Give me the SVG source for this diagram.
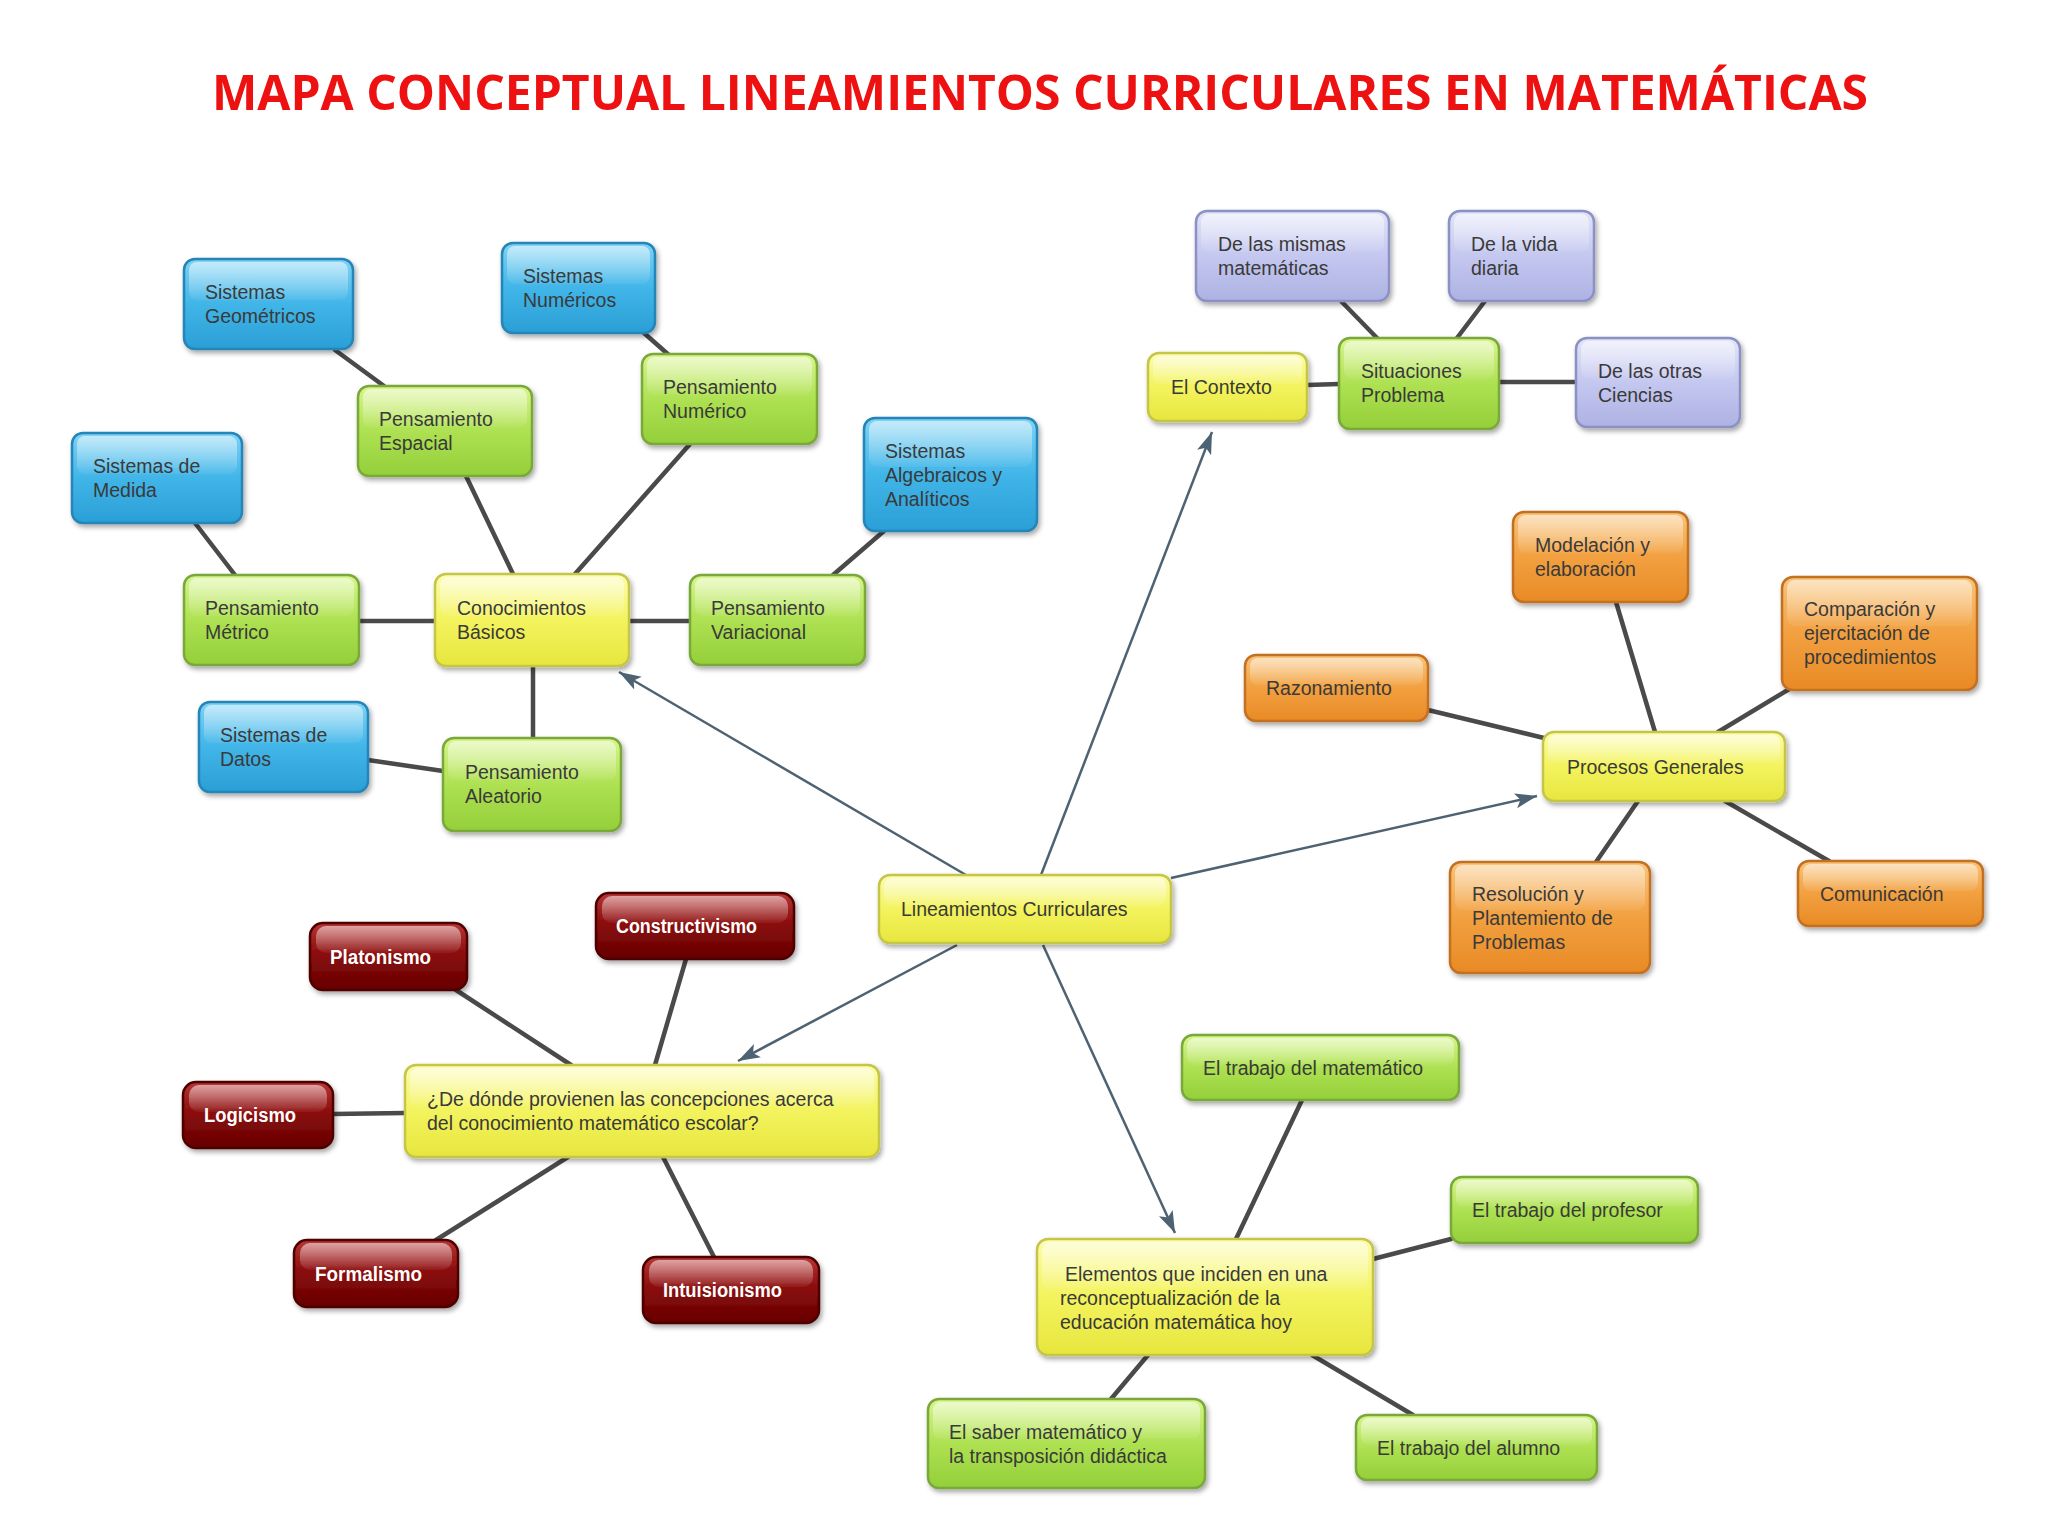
<svg xmlns="http://www.w3.org/2000/svg" width="2048" height="1536" viewBox="0 0 2048 1536">
<defs>
<linearGradient id="gBlue" x1="0" y1="0" x2="0" y2="1"><stop offset="0" stop-color="#7fd3f5"/><stop offset="0.5" stop-color="#41b5e8"/><stop offset="1" stop-color="#2a9fd6"/></linearGradient>
<linearGradient id="gGreen" x1="0" y1="0" x2="0" y2="1"><stop offset="0" stop-color="#d8f58e"/><stop offset="0.5" stop-color="#aee152"/><stop offset="1" stop-color="#94cf3a"/></linearGradient>
<linearGradient id="gYellow" x1="0" y1="0" x2="0" y2="1"><stop offset="0" stop-color="#fcfcb0"/><stop offset="0.5" stop-color="#f3f35e"/><stop offset="1" stop-color="#e7e63e"/></linearGradient>
<linearGradient id="gLav" x1="0" y1="0" x2="0" y2="1"><stop offset="0" stop-color="#e2e4f9"/><stop offset="0.5" stop-color="#c4c7ef"/><stop offset="1" stop-color="#aeb2e3"/></linearGradient>
<linearGradient id="gOrange" x1="0" y1="0" x2="0" y2="1"><stop offset="0" stop-color="#f9c47a"/><stop offset="0.5" stop-color="#f2a040"/><stop offset="1" stop-color="#e88a25"/></linearGradient>
<linearGradient id="gRed" x1="0" y1="0" x2="0" y2="1"><stop offset="0" stop-color="#b83535"/><stop offset="0.45" stop-color="#8c0d0d"/><stop offset="1" stop-color="#660000"/></linearGradient>
<linearGradient id="hl" x1="0" y1="0" x2="0" y2="1"><stop offset="0" stop-color="#ffffff" stop-opacity="0.55"/><stop offset="1" stop-color="#ffffff" stop-opacity="0.05"/></linearGradient>
<filter id="sh" x="-10%" y="-10%" width="130%" height="140%"><feDropShadow dx="2" dy="3" stdDeviation="2.5" flood-color="#000" flood-opacity="0.35"/></filter>
<marker id="arr" markerUnits="userSpaceOnUse" markerWidth="24" markerHeight="18" refX="22" refY="9" orient="auto"><path d="M0,1.5 L22,9 L0,16.5 L5,9 Z" fill="#4d6272"/></marker>
<style>
.b{stroke-width:2.5;filter:url(#sh)}
.blue{fill:url(#gBlue);stroke:#2585b8}
.green{fill:url(#gGreen);stroke:#7aa83a}
.yellow{fill:url(#gYellow);stroke:#c5c548}
.lav{fill:url(#gLav);stroke:#8c91c4}
.orange{fill:url(#gOrange);stroke:#c26f22}
.red{fill:url(#gRed);stroke:#4d0000}
.h{fill:url(#hl)}
.t{font-family:"Liberation Sans",Arial,sans-serif;font-size:19.5px;fill:#3a3a3a}
.tw{font-family:"Liberation Sans",Arial,sans-serif;font-size:20px;font-weight:bold;fill:#ffffff}
.c line{stroke:#4a4a4a;stroke-width:4.5;stroke-linecap:round}
.a line{stroke:#4d6272;stroke-width:2.5;marker-end:url(#arr)}
</style>
</defs>
<rect width="2048" height="1536" fill="#ffffff"/>
<text x="1040" y="110" text-anchor="middle" font-family="'Open Sans','DejaVu Sans',sans-serif" font-size="48" font-weight="bold" fill="#ee1111" textLength="1656" lengthAdjust="spacingAndGlyphs">MAPA CONCEPTUAL LINEAMIENTOS CURRICULARES EN MATEMÁTICAS</text>

<g id="connectors">
<g class="c">
<line x1="335" y1="350" x2="384" y2="386"/>
<line x1="644" y1="333" x2="670" y2="356"/>
<line x1="466" y1="476" x2="513" y2="574"/>
<line x1="690" y1="444" x2="575" y2="574"/>
<line x1="195" y1="523" x2="235" y2="575"/>
<line x1="884" y1="531" x2="833" y2="575"/>
<line x1="359" y1="621" x2="435" y2="621"/>
<line x1="629" y1="621" x2="690" y2="621"/>
<line x1="533" y1="666" x2="533" y2="738"/>
<line x1="368" y1="760" x2="443" y2="771"/>
<line x1="1341" y1="301" x2="1377" y2="338"/>
<line x1="1485" y1="301" x2="1457" y2="338"/>
<line x1="1307" y1="385" x2="1339" y2="384"/>
<line x1="1499" y1="382" x2="1576" y2="382"/>
<line x1="1616" y1="602" x2="1655" y2="732"/>
<line x1="1791" y1="688" x2="1718" y2="732"/>
<line x1="1428" y1="710" x2="1544" y2="738"/>
<line x1="1638" y1="801" x2="1596" y2="862"/>
<line x1="1725" y1="801" x2="1829" y2="861"/>
<line x1="456" y1="990" x2="571" y2="1065"/>
<line x1="686" y1="959" x2="655" y2="1065"/>
<line x1="333" y1="1114" x2="405" y2="1113"/>
<line x1="568" y1="1157" x2="436" y2="1240"/>
<line x1="663" y1="1157" x2="714" y2="1257"/>
<line x1="1302" y1="1100" x2="1236" y2="1239"/>
<line x1="1451" y1="1239" x2="1373" y2="1259"/>
<line x1="1148" y1="1355" x2="1111" y2="1399"/>
<line x1="1312" y1="1355" x2="1413" y2="1415"/>
</g>
<g class="a">
<line x1="966" y1="875" x2="619" y2="672"/>
<line x1="1041" y1="875" x2="1212" y2="432"/>
<line x1="1171" y1="878" x2="1537" y2="796"/>
<line x1="957" y1="945" x2="738" y2="1061"/>
<line x1="1043" y1="945" x2="1175" y2="1233"/>
</g>
</g>

<g id="sistemas-geometricos"><rect class="b blue" x="184" y="259" width="169" height="90" rx="11"/><rect class="h" x="189" y="262" width="159" height="38" rx="8"/><text class="t" x="205" y="299">Sistemas</text><text class="t" x="205" y="323">Geométricos</text></g>
<g id="sistemas-numericos"><rect class="b blue" x="502" y="243" width="153" height="90" rx="11"/><rect class="h" x="507" y="246" width="143" height="38" rx="8"/><text class="t" x="523" y="283">Sistemas</text><text class="t" x="523" y="307">Numéricos</text></g>
<g id="sistemas-medida"><rect class="b blue" x="72" y="433" width="170" height="90" rx="11"/><rect class="h" x="77" y="436" width="160" height="38" rx="8"/><text class="t" x="93" y="473">Sistemas de</text><text class="t" x="93" y="497">Medida</text></g>
<g id="sistemas-algebraicos"><rect class="b blue" x="864" y="418" width="173" height="113" rx="11"/><rect class="h" x="869" y="421" width="163" height="46" rx="8"/><text class="t" x="885" y="458">Sistemas</text><text class="t" x="885" y="482">Algebraicos y</text><text class="t" x="885" y="506">Analíticos</text></g>
<g id="sistemas-datos"><rect class="b blue" x="199" y="702" width="169" height="90" rx="11"/><rect class="h" x="204" y="705" width="159" height="38" rx="8"/><text class="t" x="220" y="742">Sistemas de</text><text class="t" x="220" y="766">Datos</text></g>

<g id="pensamiento-espacial"><rect class="b green" x="358" y="386" width="174" height="90" rx="11"/><rect class="h" x="363" y="389" width="164" height="38" rx="8"/><text class="t" x="379" y="426">Pensamiento</text><text class="t" x="379" y="450">Espacial</text></g>
<g id="pensamiento-numerico"><rect class="b green" x="642" y="354" width="175" height="90" rx="11"/><rect class="h" x="647" y="357" width="165" height="38" rx="8"/><text class="t" x="663" y="394">Pensamiento</text><text class="t" x="663" y="418">Numérico</text></g>
<g id="pensamiento-metrico"><rect class="b green" x="184" y="575" width="175" height="90" rx="11"/><rect class="h" x="189" y="578" width="165" height="38" rx="8"/><text class="t" x="205" y="615">Pensamiento</text><text class="t" x="205" y="639">Métrico</text></g>
<g id="pensamiento-variacional"><rect class="b green" x="690" y="575" width="175" height="90" rx="11"/><rect class="h" x="695" y="578" width="165" height="38" rx="8"/><text class="t" x="711" y="615">Pensamiento</text><text class="t" x="711" y="639">Variacional</text></g>
<g id="pensamiento-aleatorio"><rect class="b green" x="443" y="738" width="178" height="93" rx="11"/><rect class="h" x="448" y="741" width="168" height="39" rx="8"/><text class="t" x="465" y="779">Pensamiento</text><text class="t" x="465" y="803">Aleatorio</text></g>
<g id="conocimientos-basicos"><rect class="b yellow" x="435" y="574" width="194" height="92" rx="11"/><rect class="h" x="440" y="577" width="184" height="39" rx="8"/><text class="t" x="457" y="615">Conocimientos</text><text class="t" x="457" y="639">Básicos</text></g>

<g id="de-las-mismas"><rect class="b lav" x="1196" y="211" width="193" height="90" rx="11"/><rect class="h" x="1201" y="214" width="183" height="38" rx="8"/><text class="t" x="1218" y="251">De las mismas</text><text class="t" x="1218" y="275">matemáticas</text></g>
<g id="de-la-vida"><rect class="b lav" x="1449" y="211" width="145" height="90" rx="11"/><rect class="h" x="1454" y="214" width="135" height="38" rx="8"/><text class="t" x="1471" y="251">De la vida</text><text class="t" x="1471" y="275">diaria</text></g>
<g id="el-contexto"><rect class="b yellow" x="1148" y="353" width="159" height="68" rx="11"/><rect class="h" x="1153" y="356" width="149" height="28" rx="8"/><text class="t" x="1171" y="394">El Contexto</text></g>
<g id="situaciones-problema"><rect class="b green" x="1339" y="338" width="160" height="91" rx="11"/><rect class="h" x="1344" y="341" width="150" height="38" rx="8"/><text class="t" x="1361" y="378">Situaciones</text><text class="t" x="1361" y="402">Problema</text></g>
<g id="de-las-otras"><rect class="b lav" x="1576" y="338" width="164" height="89" rx="11"/><rect class="h" x="1581" y="341" width="154" height="38" rx="8"/><text class="t" x="1598" y="378">De las otras</text><text class="t" x="1598" y="402">Ciencias</text></g>

<g id="modelacion"><rect class="b orange" x="1513" y="512" width="175" height="90" rx="11"/><rect class="h" x="1518" y="515" width="165" height="38" rx="8"/><text class="t" x="1535" y="552">Modelación y</text><text class="t" x="1535" y="576">elaboración</text></g>
<g id="comparacion"><rect class="b orange" x="1782" y="577" width="195" height="113" rx="11"/><rect class="h" x="1787" y="580" width="185" height="46" rx="8"/><text class="t" x="1804" y="616">Comparación y</text><text class="t" x="1804" y="640">ejercitación de</text><text class="t" x="1804" y="664">procedimientos</text></g>
<g id="razonamiento"><rect class="b orange" x="1245" y="655" width="183" height="66" rx="11"/><rect class="h" x="1250" y="658" width="173" height="27" rx="8"/><text class="t" x="1266" y="695">Razonamiento</text></g>
<g id="procesos-generales"><rect class="b yellow" x="1543" y="732" width="242" height="69" rx="11"/><rect class="h" x="1548" y="735" width="232" height="28" rx="8"/><text class="t" x="1567" y="774">Procesos Generales</text></g>
<g id="resolucion"><rect class="b orange" x="1450" y="862" width="200" height="111" rx="11"/><rect class="h" x="1455" y="865" width="190" height="45" rx="8"/><text class="t" x="1472" y="901">Resolución y</text><text class="t" x="1472" y="925">Plantemiento de</text><text class="t" x="1472" y="949">Problemas</text></g>
<g id="comunicacion"><rect class="b orange" x="1798" y="861" width="185" height="65" rx="11"/><rect class="h" x="1803" y="864" width="175" height="27" rx="8"/><text class="t" x="1820" y="901">Comunicación</text></g>

<g id="lineamientos-curriculares"><rect class="b yellow" x="879" y="875" width="292" height="68" rx="11"/><rect class="h" x="884" y="878" width="282" height="28" rx="8"/><text class="t" x="901" y="916">Lineamientos Curriculares</text></g>

<g id="constructivismo"><rect class="b red" x="596" y="893" width="198" height="66" rx="13"/><rect class="h" x="602" y="896" width="186" height="27" rx="10"/><text class="tw" x="616" y="933" textLength="141" lengthAdjust="spacingAndGlyphs">Constructivismo</text></g>
<g id="platonismo"><rect class="b red" x="310" y="923" width="157" height="67" rx="13"/><rect class="h" x="316" y="926" width="145" height="27" rx="10"/><text class="tw" x="330" y="964" textLength="101" lengthAdjust="spacingAndGlyphs">Platonismo</text></g>
<g id="logicismo"><rect class="b red" x="183" y="1082" width="150" height="66" rx="13"/><rect class="h" x="189" y="1085" width="138" height="27" rx="10"/><text class="tw" x="204" y="1122" textLength="92" lengthAdjust="spacingAndGlyphs">Logicismo</text></g>
<g id="de-donde"><rect class="b yellow" x="405" y="1065" width="474" height="92" rx="11"/><rect class="h" x="410" y="1068" width="464" height="38" rx="8"/><text class="t" x="427" y="1106">¿De dónde provienen las concepciones acerca</text><text class="t" x="427" y="1130">del conocimiento matemático escolar?</text></g>
<g id="formalismo"><rect class="b red" x="294" y="1240" width="164" height="67" rx="13"/><rect class="h" x="300" y="1243" width="152" height="27" rx="10"/><text class="tw" x="315" y="1281" textLength="107" lengthAdjust="spacingAndGlyphs">Formalismo</text></g>
<g id="intuisionismo"><rect class="b red" x="643" y="1257" width="176" height="66" rx="13"/><rect class="h" x="649" y="1260" width="164" height="27" rx="10"/><text class="tw" x="663" y="1297" textLength="119" lengthAdjust="spacingAndGlyphs">Intuisionismo</text></g>

<g id="trabajo-matematico"><rect class="b green" x="1182" y="1035" width="277" height="65" rx="11"/><rect class="h" x="1187" y="1038" width="267" height="27" rx="8"/><text class="t" x="1203" y="1075">El trabajo del matemático</text></g>
<g id="trabajo-profesor"><rect class="b green" x="1451" y="1177" width="247" height="66" rx="11"/><rect class="h" x="1456" y="1180" width="237" height="27" rx="8"/><text class="t" x="1472" y="1217">El trabajo del profesor</text></g>
<g id="elementos"><rect class="b yellow" x="1037" y="1239" width="336" height="116" rx="11"/><rect class="h" x="1042" y="1242" width="326" height="47" rx="8"/><text class="t" x="1065" y="1281">Elementos que inciden en una</text><text class="t" x="1060" y="1305">reconceptualización de la</text><text class="t" x="1060" y="1329">educación matemática hoy</text></g>
<g id="saber-matematico"><rect class="b green" x="928" y="1399" width="277" height="89" rx="11"/><rect class="h" x="933" y="1402" width="267" height="37" rx="8"/><text class="t" x="949" y="1439">El saber matemático y</text><text class="t" x="949" y="1463">la transposición didáctica</text></g>
<g id="trabajo-alumno"><rect class="b green" x="1356" y="1415" width="241" height="65" rx="11"/><rect class="h" x="1361" y="1418" width="231" height="27" rx="8"/><text class="t" x="1377" y="1455">El trabajo del alumno</text></g>
</svg>
